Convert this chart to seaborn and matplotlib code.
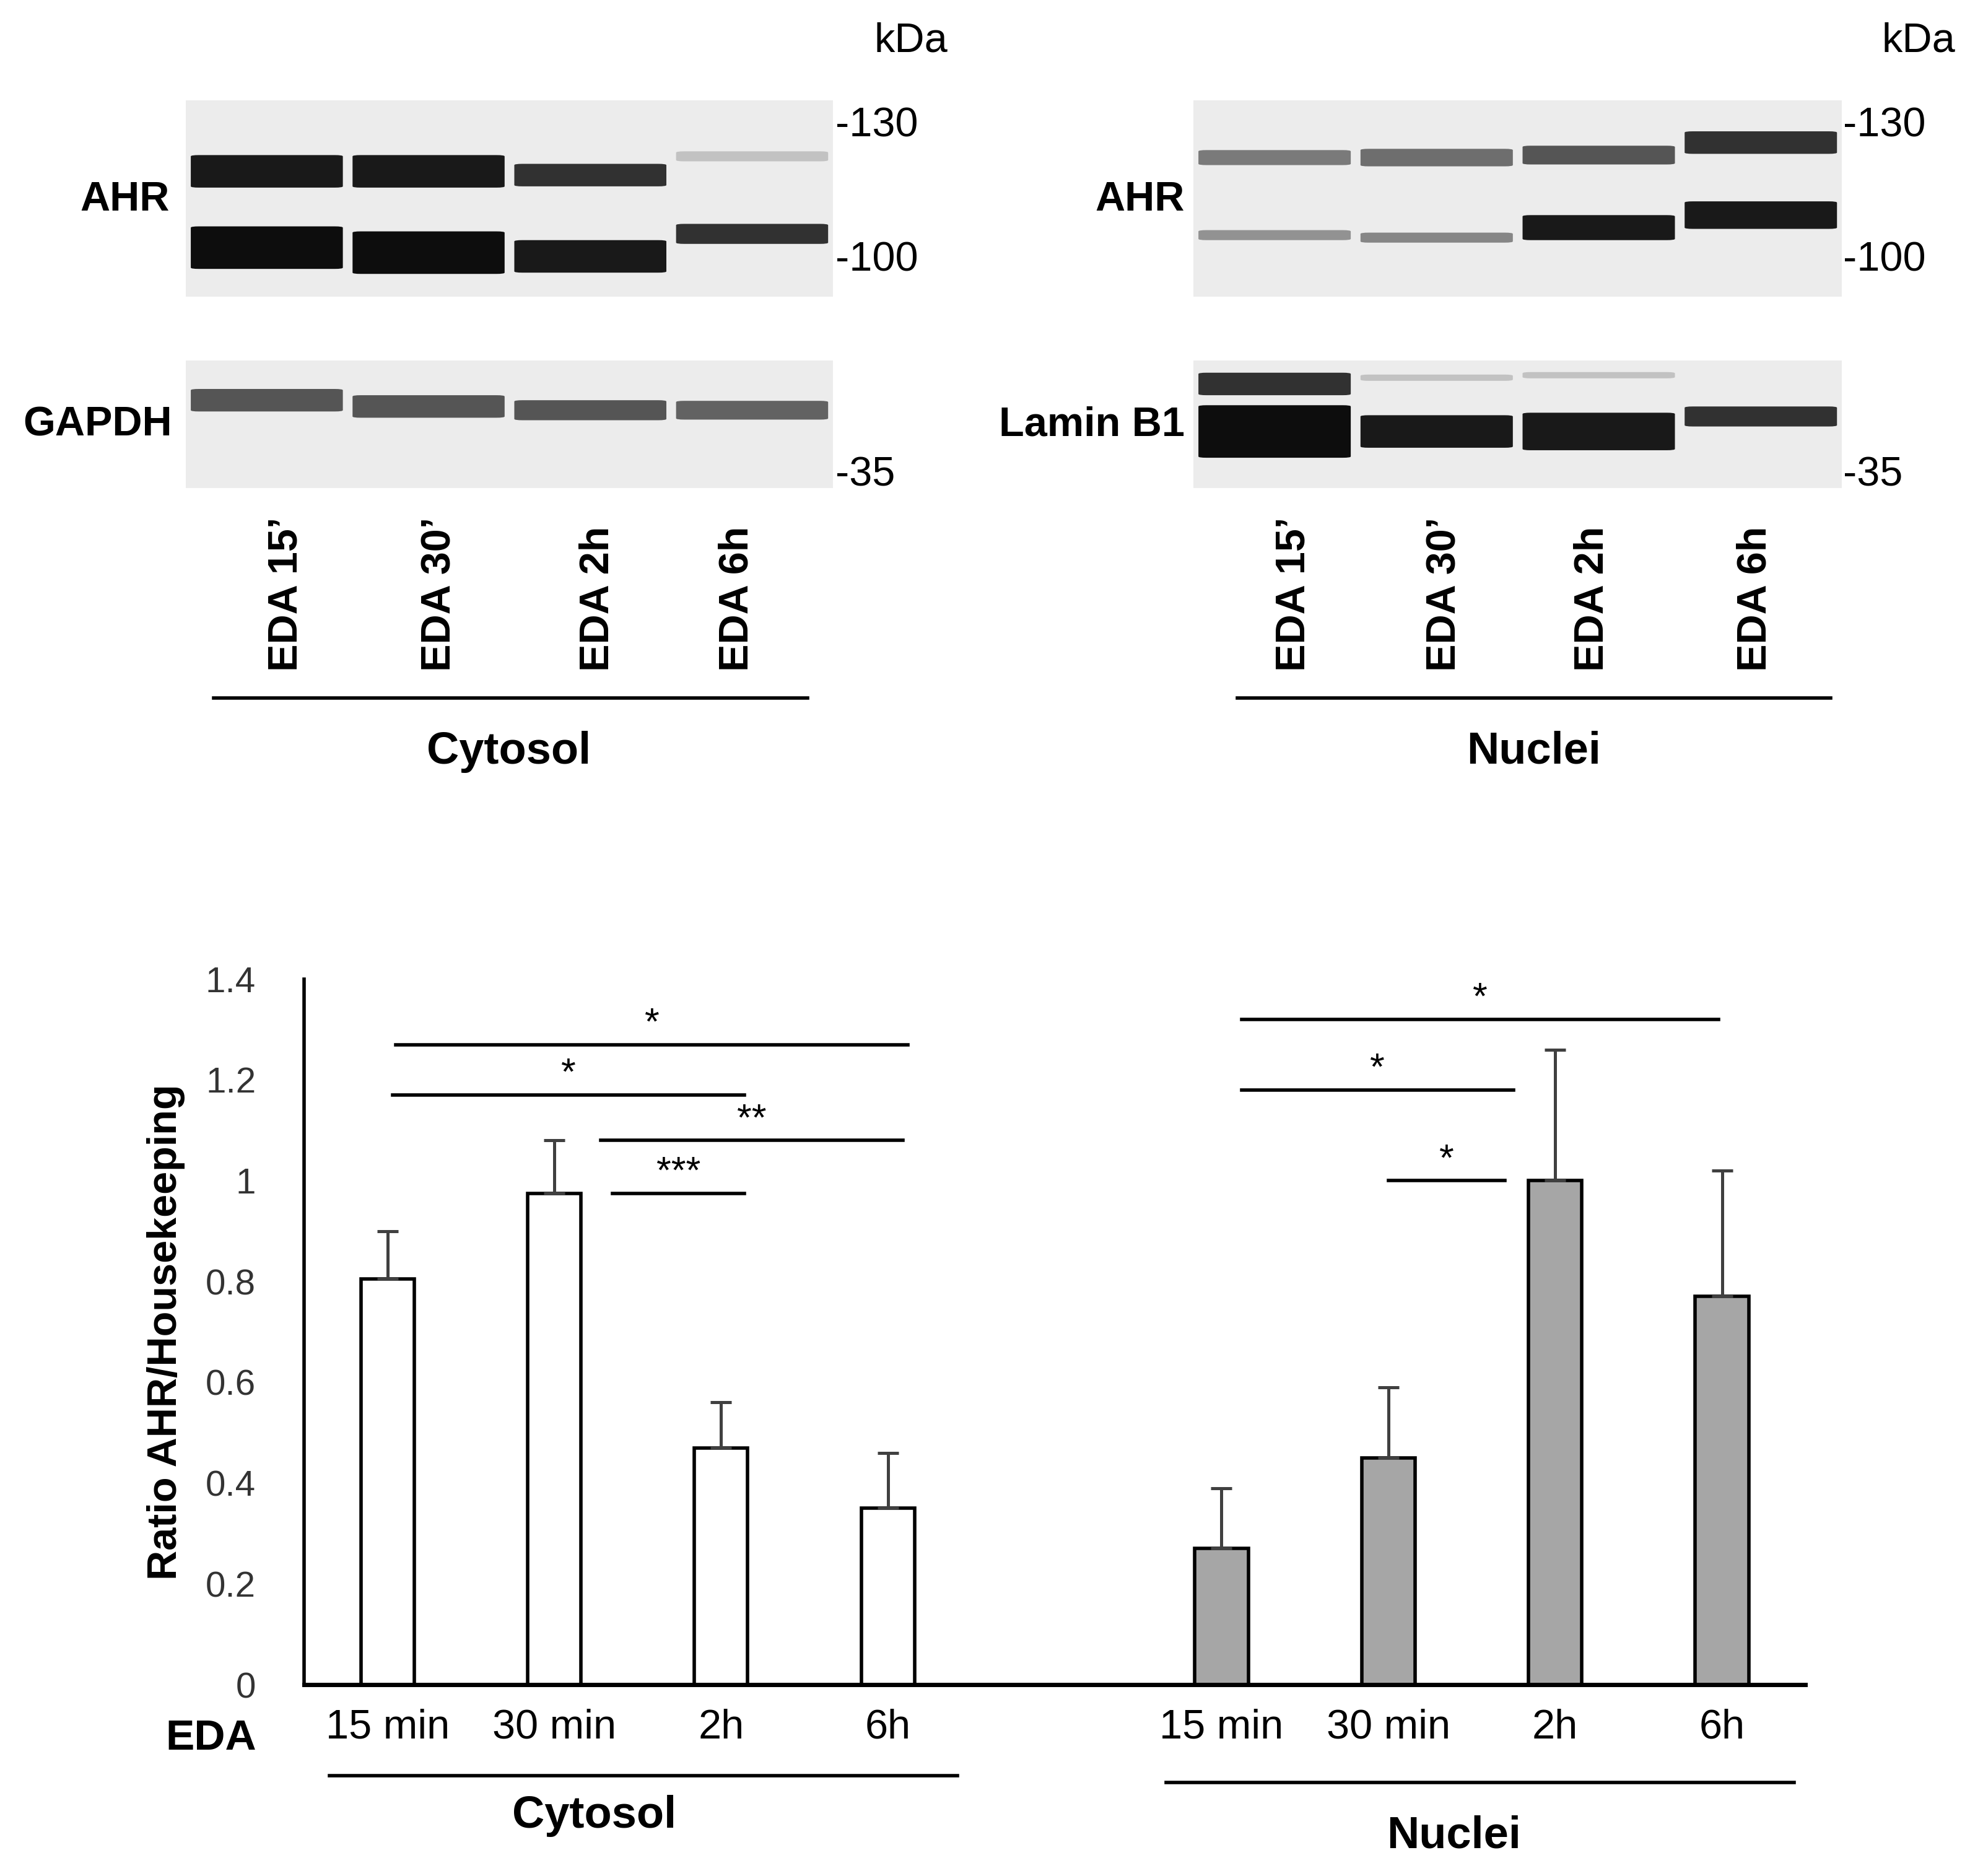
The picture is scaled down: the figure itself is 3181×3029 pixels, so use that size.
import numpy as np
import pandas as pd
import seaborn as sns
import matplotlib
matplotlib.use("Agg")
from matplotlib import pyplot as plt
from matplotlib.patches import FancyBboxPatch

# ---- data ----
times = ['15 min', '30 min', '2h', '6h']
cyto_mean = [0.805, 0.975, 0.47, 0.35]
cyto_err = [0.095, 0.105, 0.09, 0.11]
nuc_mean = [0.27, 0.45, 1.00, 0.77]
nuc_err = [0.12, 0.14, 0.26, 0.25]
yticks = [0, 0.2, 0.4, 0.6, 0.8, 1, 1.2, 1.4]
ytick_labels = ['0', '0.2', '0.4', '0.6', '0.8', '1', '1.2', '1.4']
# significance: (x start, x end, y, label) in bar positions
sig = [(0.05, 3.12, 1.27, '*'), (0.03, 2.14, 1.17, '*'), (1.28, 3.09, 1.08, '**'),
       (1.35, 2.14, 0.975, '***'), (5.12, 7.98, 1.32, '*'), (5.12, 6.75, 1.18, '*'),
       (6.0, 6.7, 1.0, '*')]
lane_labels = ['EDA 15’', 'EDA 30’', 'EDA 2h', 'EDA 6h']

# blot bands: (lane, y centre px, thickness px, darkness 0-1)
ahr_cyto = [(0, 137, 26, 0.95), (1, 137, 26, 0.95), (2, 140, 18, 0.85), (3, 125, 8, 0.25),
            (0, 198, 34, 1.0), (1, 202, 34, 1.0), (2, 205, 26, 0.95), (3, 187, 16, 0.85)]
gapdh = [(0, 320, 18, 0.7), (1, 325, 18, 0.7), (2, 328, 16, 0.7), (3, 328, 15, 0.65)]
ahr_nuc = [(0, 126, 12, 0.55), (1, 126, 14, 0.6), (2, 124, 15, 0.7), (3, 114, 18, 0.85),
           (0, 188, 8, 0.45), (1, 190, 8, 0.5), (2, 182, 20, 0.95), (3, 172, 22, 0.95)]
lamin = [(0, 307, 18, 0.85), (0, 345, 42, 1.0), (1, 345, 26, 0.95), (2, 345, 30, 0.95),
         (3, 333, 16, 0.85), (1, 302, 5, 0.25), (2, 300, 5, 0.25)]

W, H = 1568, 1500
fig = plt.figure(figsize=(3181 / 200, 3029 / 200), dpi=200)
plt.rcParams['font.family'] = ['Liberation Sans', 'DejaVu Sans']


def rect(x0, y0, x1, y1):
    return [x0 / W, 1 - y1 / H, (x1 - x0) / W, (y1 - y0) / H]


over = fig.add_axes([0, 0, 1, 1], zorder=-1)
over.set_xlim(0, W)
over.set_ylim(H, 0)
over.axis('off')


def blot(x0, y0, x1, y1, bands):
    ax = fig.add_axes(rect(x0, y0, x1, y1))
    ax.set_xlim(0, 4)
    ax.set_ylim(y1, y0)
    ax.set_facecolor('#ececec')
    for s in ax.spines.values():
        s.set_visible(False)
    ax.set_xticks([])
    ax.set_yticks([])
    for lane, yc, th, d in bands:
        g = 1 - d * 0.95
        ax.add_patch(FancyBboxPatch((lane + 0.03, yc - th / 2), 0.94, th,
                                    boxstyle='round,pad=0,rounding_size=0.05',
                                    fc=(g, g, g), ec='none', mutation_aspect=20))


blot(148, 80, 663, 237, ahr_cyto)
blot(148, 288, 663, 390, gapdh)
blot(950, 80, 1466, 237, ahr_nuc)
blot(950, 288, 1466, 390, lamin)

fs = 24
for xm in (665, 1467):
    over.text(xm + 60, 33, 'kDa', fontsize=fs, ha='center', va='center')
    over.text(xm, 101, '-130', fontsize=fs, va='center')
    over.text(xm, 208, '-100', fontsize=fs, va='center')
    over.text(xm, 380, '-35', fontsize=fs, va='center')
over.text(135, 160, 'AHR', fontsize=fs, weight='bold', ha='right', va='center')
over.text(137, 340, 'GAPDH', fontsize=fs, weight='bold', ha='right', va='center')
over.text(943, 160, 'AHR', fontsize=fs, weight='bold', ha='right', va='center')
over.text(943, 340, 'Lamin B1', fontsize=fs, weight='bold', ha='right', va='center')
for xs in ([228, 350, 476, 587], [1030, 1150, 1268, 1397]):
    for x, lab in zip(xs, lane_labels):
        over.text(x, 537, lab, fontsize=fs, weight='bold', rotation=90, ha='center', va='bottom')
over.plot([170, 643], [558, 558], color='k', lw=2)
over.plot([985, 1457], [558, 558], color='k', lw=2)
over.text(405, 601, 'Cytosol', fontsize=26, weight='bold', ha='center', va='center')
over.text(1221, 601, 'Nuclei', fontsize=26, weight='bold', ha='center', va='center')

# ---- bar chart ----
ax = fig.add_axes(rect(242, 1347 - 1.4 * 403, 1437, 1347))
pos_c = np.arange(4)
pos_n = np.arange(5, 9)
df_c = pd.DataFrame({'pos': pos_c, 'val': cyto_mean})
df_n = pd.DataFrame({'pos': pos_n, 'val': nuc_mean})
sns.barplot(data=df_c, x='pos', y='val', native_scale=True, width=0.32, color='white',
            edgecolor='black', linewidth=2, ax=ax)
sns.barplot(data=df_n, x='pos', y='val', native_scale=True, width=0.32, color='#a6a6a6',
            edgecolor='black', linewidth=2, ax=ax)
ax.errorbar(pos_c, cyto_mean, yerr=[np.zeros(4), cyto_err], fmt='none', ecolor='#404040',
            elinewidth=1.8, capsize=6, capthick=1.8)
ax.errorbar(pos_n, nuc_mean, yerr=[np.zeros(4), nuc_err], fmt='none', ecolor='#404040',
            elinewidth=1.8, capsize=6, capthick=1.8)
for xa, xb, y, lab in sig:
    ax.plot([xa, xb], [y, y], color='k', lw=2)
    ax.text((xa + xb) / 2, y + 0.005, lab, fontsize=22, ha='center', va='bottom')
ax.set_xlim(-0.5, 8.5)
ax.set_ylim(0, 1.4)
ax.set_yticks(yticks)
ax.set_yticklabels(ytick_labels, fontsize=21, color='#333333')
ax.tick_params(axis='y', length=0, pad=28)
ax.set_xticks(list(pos_c) + list(pos_n))
ax.set_xticklabels(times + times, fontsize=24)
ax.tick_params(axis='x', length=0, pad=14)
ax.set_xlabel('')
ax.set_ylabel('Ratio AHR/Housekeeping', fontsize=24, weight='bold', labelpad=12)
for s in ['top', 'right']:
    ax.spines[s].set_visible(False)
ax.spines['left'].set_linewidth(2)
ax.spines['bottom'].set_linewidth(2.5)
ax.set_facecolor('none')

over.text(168, 1390, 'EDA', fontsize=25, weight='bold', ha='center', va='center')
over.plot([262, 762], [1420, 1420], color='k', lw=2)
over.plot([928, 1428], [1425, 1425], color='k', lw=2)
over.text(473, 1452, 'Cytosol', fontsize=26, weight='bold', ha='center', va='center')
over.text(1157, 1468, 'Nuclei', fontsize=26, weight='bold', ha='center', va='center')

fig.savefig('out.png', dpi=200)
